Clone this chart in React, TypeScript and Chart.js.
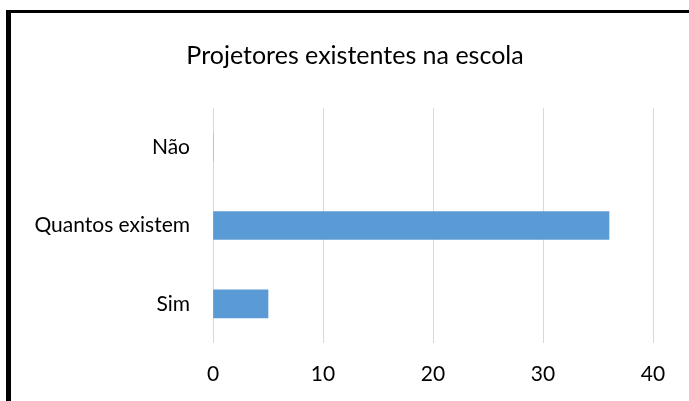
import React, { useEffect, useRef } from "react";
import { Chart, registerables } from "chart.js";

Chart.register(...registerables);

const categories = ["Não", "Quantos existem", "Sim"];
const values = [0, 36, 5];
const titleText = "Projetores existentes na escola";
const xMin = 0;
const xMax = 40;
const xStep = 10;

const FONT = "Lato, 'Open Sans', sans-serif";

const titlePlugin = {
  id: "customTitle",
  afterDraw(chart: any) {
    const ctx = chart.ctx;
    ctx.save();
    ctx.fillStyle = "#000000";
    ctx.font = `normal 25px ${FONT}`;
    ctx.textAlign = "center";
    ctx.textBaseline = "alphabetic";
    ctx.fillText(titleText, 355, 64);
    ctx.restore();
  },
};

export default function App() {
  const ref = useRef<HTMLCanvasElement | null>(null);

  useEffect(() => {
    document.body.style.margin = "0";
    const canvas = ref.current;
    if (!canvas) return;
    const chart = new Chart(canvas, {
      type: "bar",
      data: {
        labels: categories,
        datasets: [
          {
            data: values,
            backgroundColor: "#5B9BD5",
            borderWidth: 0,
            barThickness: 28,
          },
        ],
      },
      options: {
        indexAxis: "y",
        animation: false,
        responsive: false,
        maintainAspectRatio: false,
        devicePixelRatio: 1,
        layout: { padding: { left: 0, right: 36, top: 108, bottom: 0 } },
        plugins: {
          legend: { display: false },
          tooltip: { enabled: false },
          title: { display: false },
        },
        scales: {
          x: {
            min: xMin,
            max: xMax,
            ticks: {
              stepSize: xStep,
              color: "#000000",
              font: { family: FONT, size: 21 },
              padding: 19,
            },
            grid: {
              color: "#D9D9D9",
              lineWidth: 1,
              drawTicks: false,
            },
            border: { display: false },
            afterFit: (s: any) => {
              s.height = 58;
            },
          },
          y: {
            ticks: {
              color: "#000000",
              font: { family: FONT, size: 21 },
              padding: 23,
            },
            grid: { display: false, drawTicks: false },
            border: { display: false },
            afterFit: (s: any) => {
              s.width = 213;
            },
          },
        },
      },
      plugins: [titlePlugin],
    });
    return () => chart.destroy();
  }, []);

  return (
    <div style={{ position: "fixed", left: 0, top: 0, width: 689, height: 401, background: "#fff", overflow: "hidden" }}>
      <canvas ref={ref} width={689} height={401} style={{ position: "absolute", left: 0, top: 0, width: 689, height: 401 }} />
      <div style={{ position: "absolute", left: 6, top: 10, width: 5, height: 391, background: "#000" }} />
      <div style={{ position: "absolute", left: 6, top: 10, width: 683, height: 3, background: "#000" }} />
    </div>
  );
}
